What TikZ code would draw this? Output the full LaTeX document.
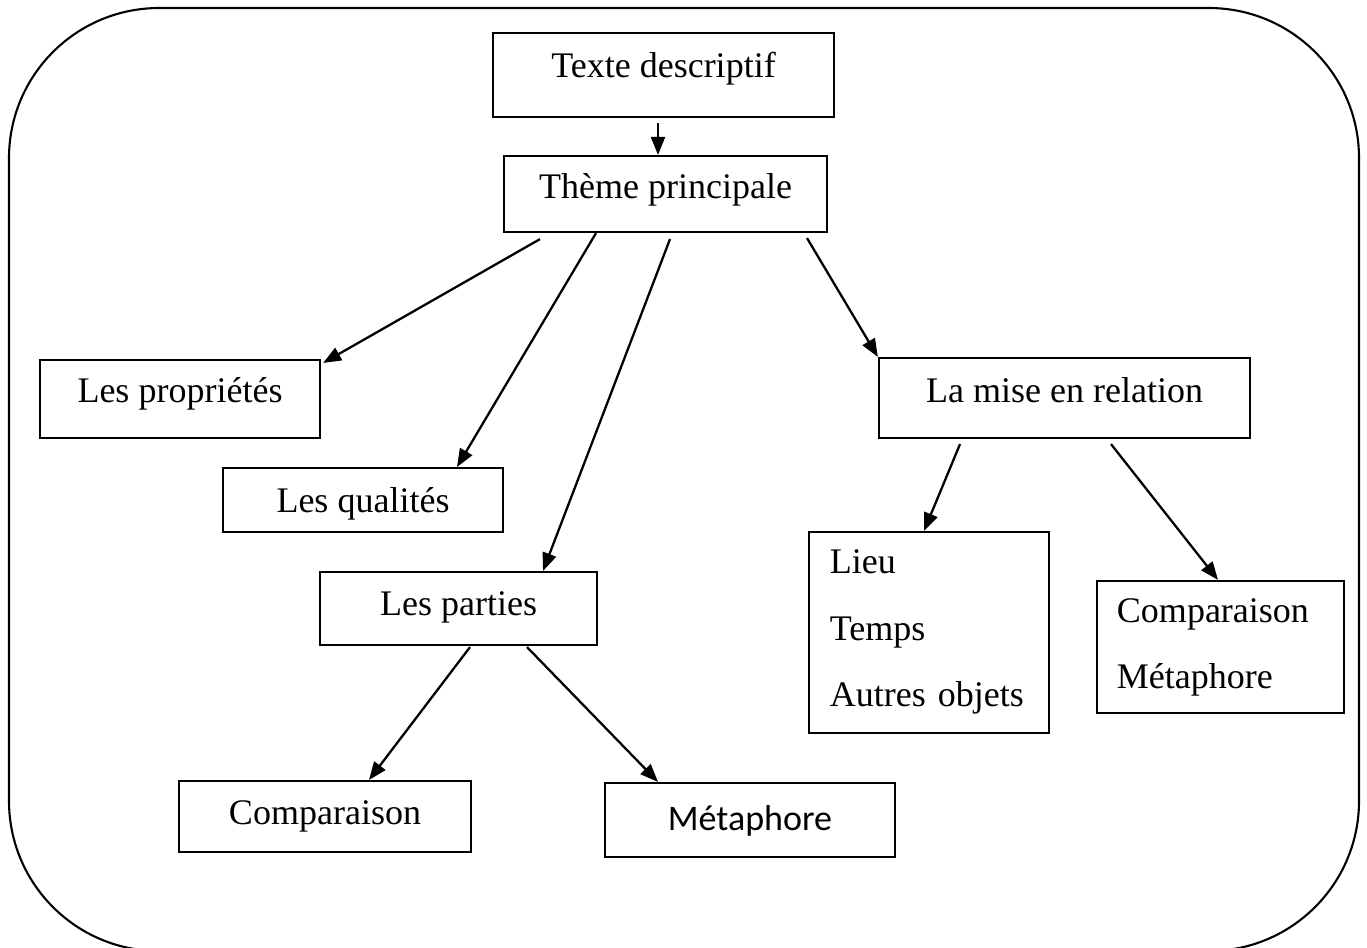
\documentclass[tikz,border=0pt]{standalone}
\usepackage{fontspec}
\setmainfont{Liberation Serif}
\newfontfamily\calibrifont{Carlito}
\usetikzlibrary{arrows.meta}
\begin{document}
\begin{tikzpicture}[x=0.01cm,y=-0.01cm,
  box/.style={draw, line width=0.6pt, inner xsep=0pt, inner ysep=0pt,
    font=\fontsize{10.24pt}{12.3pt}\selectfont, text depth=0pt},
  multibox/.style={box, align=left, font=\fontsize{10.24pt}{18.9pt}\selectfont, text height=0pt},
  arr/.style={line width=0.65pt, -{Triangle[length=0.18cm,width=0.14cm]}},
  frame/.style={line width=0.6pt, rounded corners=1.5cm}
]
\useasboundingbox (0,0) rectangle (1367,947);
\draw[frame] (9,8) rectangle (1359,951);

\node[box, minimum width=3.41cm, minimum height=0.84cm, text height=1.14pt] (tex) at (663.5,75) {Texte descriptif};
\node[box, minimum width=3.23cm, minimum height=0.76cm, text height=2.28pt] (theme) at (665.5,194) {Thème principale};
\node[box, minimum width=2.80cm, minimum height=0.78cm, text height=1.71pt] (prop) at (180,399) {Les propriétés};
\node[box, minimum width=2.80cm, minimum height=0.64cm, text height=6.83pt] (qual) at (363,500) {Les qualités};
\node[box, minimum width=2.77cm, minimum height=0.73cm, text height=3.70pt] (part) at (458.5,608.5) {Les parties};
\node[box, minimum width=3.71cm, minimum height=0.80cm, text height=2.28pt] (mise) at (1064.5,398) {La mise en relation};
\node[multibox, minimum width=2.40cm, minimum height=2.01cm, text width=1.98cm, text depth=33.29pt] (lieu) at (929,632.5) {\mbox{Lieu}\\\mbox{Temps}\\\mbox{Autres objets}};
\node[multibox, minimum width=2.47cm, minimum height=1.32cm, text width=2.07cm, text depth=14.23pt] (cm) at (1220.5,647) {\mbox{Comparaison}\\\mbox{Métaphore}};
\node[box, minimum width=2.92cm, minimum height=0.71cm, text height=4.27pt] (comp) at (325,816.5) {Comparaison};
\node[box, minimum width=2.90cm, minimum height=0.74cm, text height=5.69pt, font=\fontsize{10.24pt}{12.3pt}\calibrifont] (meta) at (750,820) {Métaphore};

\draw[arr] ([shift={(-5.5,5)}]tex.south) -- ([shift={(-7.5,0)}]theme.north);
\draw[arr] ([shift={(-125.5,6)}]theme.south) -- ([shift={(2,4)}]prop.north east);
\draw[arr] ([shift={(-69.5,0)}]theme.south) -- ([shift={(94,0)}]qual.north);
\draw[arr] ([shift={(4.5,6)}]theme.south) -- ([shift={(84.5,0)}]part.north);
\draw[arr] ([shift={(141.5,5)}]theme.south) -- (mise.north west);
\draw[arr] ([shift={(-104.5,5)}]mise.south) -- ([shift={(-5,0)}]lieu.north);
\draw[arr] ([shift={(46.5,5)}]mise.south) -- ([shift={(-2.5,0)}]cm.north);
\draw[arr] ([shift={(11.5,1)}]part.south) -- ([shift={(44,0)}]comp.north);
\draw[arr] ([shift={(68.5,1)}]part.south) -- ([shift={(-92,0)}]meta.north);
\end{tikzpicture}
\end{document}
